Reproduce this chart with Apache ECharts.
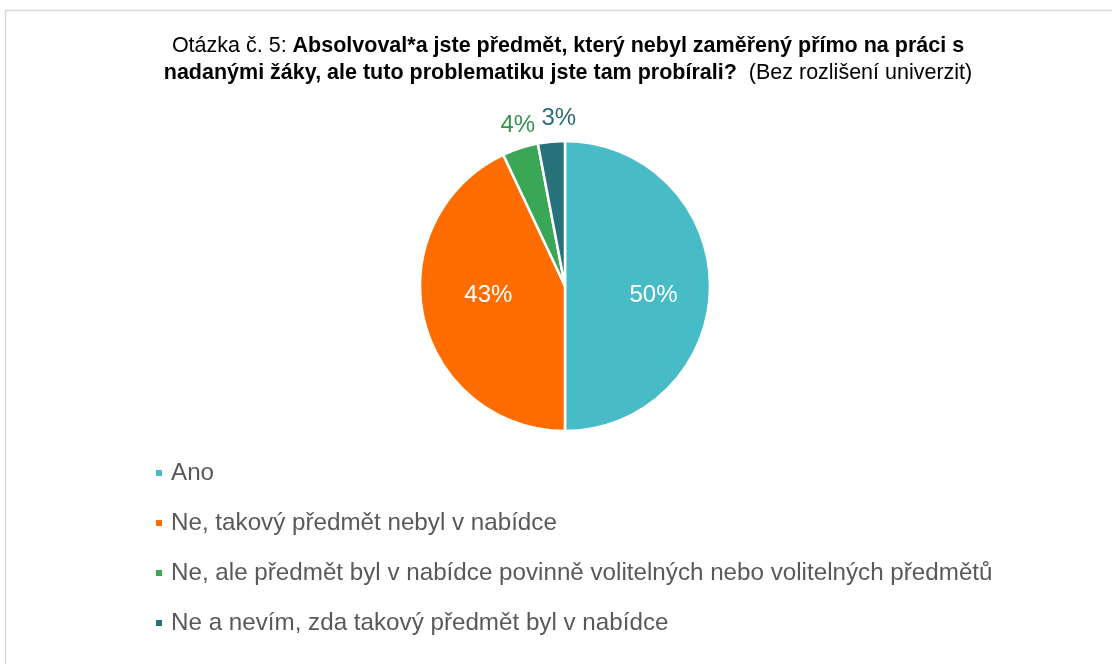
<!DOCTYPE html>
<html>
<head>
<meta charset="utf-8">
<script src="https://cdn.jsdelivr.net/npm/echarts@6/dist/echarts.min.js"></script>
<style>
  html, body { margin: 0; padding: 0; background: #fff; }
  #chart { width: 1112px; height: 664px; }
</style>
</head>
<body>
<div id="chart"></div>
<script>
  // data
  var categories = [
    'Ano',
    'Ne, takový předmět nebyl v nabídce',
    'Ne, ale předmět byl v nabídce povinně volitelných nebo volitelných předmětů',
    'Ne a nevím, zda takový předmět byl v nabídce'
  ];
  var values = [50, 43, 4, 3];
  var colors = ['#48bcc6', '#ff6d00', '#3aa757', '#27727b'];
  var labelColors = ['#fff', '#fff', '#36924f', '#2a6c75'];
  var outsideLabel = [false, false, true, true];
  // small nudges so the labels sit where Excel put them
  var labelShift = [[13, 9], [-3, -7], [6, 3], [10, 4]];

  var chart = echarts.init(document.getElementById('chart'));

  var seriesData = categories.map(function (name, i) {
    var item = { name: name, value: values[i], itemStyle: { color: colors[i] } };
    if (outsideLabel[i]) {
      item.label = { position: 'outside', color: labelColors[i], distanceToLabelLine: 0 };
      item.labelLine = { show: false, length: 27, length2: 0 };
    }
    return item;
  });

  chart.setOption({
    textStyle: { fontFamily: 'Liberation Sans, Arial, sans-serif' },
    graphic: [{
      type: 'rect',
      shape: { x: 5.5, y: 10.5, width: 1200, height: 800 },
      style: { fill: 'none', stroke: '#d9d9d9', lineWidth: 1.5 },
      silent: true
    }],
    title: {
      left: 563,
      textAlign: 'center',
      top: 28,
      text: '{n|Otázka č. 5: }{b|Absolvoval*a jste předmět, který nebyl zaměřený přímo na práci s}\n{b|nadanými žáky, ale tuto problematiku jste tam probírali?}{n|  (Bez rozlišení univerzit)}',
      textStyle: {
        rich: {
          n: { fontSize: 21.5, color: '#000', fontWeight: 'normal', lineHeight: 27 },
          b: { fontSize: 21.5, color: '#000', fontWeight: 'bold', lineHeight: 27 }
        }
      }
    },
    legend: {
      orient: 'vertical',
      left: 154,
      top: 461,
      padding: 0,
      icon: 'rect',
      itemWidth: 8,
      itemHeight: 8,
      itemGap: 26,
      textStyle: { fontSize: 24.2, color: '#595959', padding: [0, 0, 0, 3] },
      data: categories
    },
    series: [{
      type: 'pie',
      center: [565, 286],
      radius: 145,
      startAngle: 90,
      clockwise: true,
      avoidLabelOverlap: false,
      itemStyle: { borderColor: '#fff', borderWidth: 2.5 },
      label: {
        show: true,
        position: 'inside',
        formatter: '{c}%',
        fontSize: 24,
        color: '#fff'
      },
      labelLayout: function (params) {
        var s = labelShift[params.dataIndex];
        var out = { dx: s[0], dy: s[1] };
        if (outsideLabel[params.dataIndex]) out.align = 'center';
        return out;
      },
      emphasis: { disabled: true },
      data: seriesData
    }]
  });
</script>
</body>
</html>
